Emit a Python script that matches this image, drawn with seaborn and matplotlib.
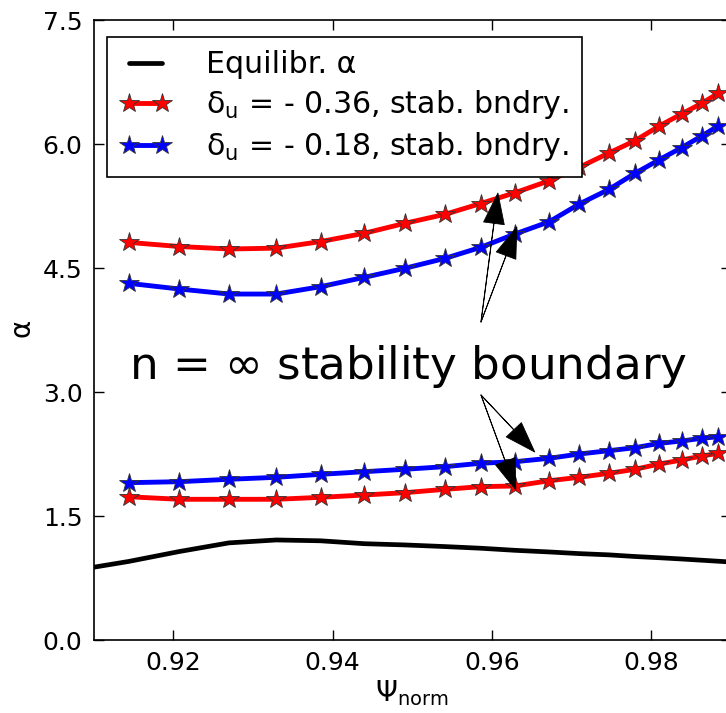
import matplotlib
matplotlib.use("Agg")
import matplotlib.pyplot as plt
import seaborn as sns
import numpy as np

# ---- data ----
psi = [0.9144, 0.92075, 0.9270, 0.93293, 0.9385, 0.94398, 0.94905, 0.95413, 0.95859,
       0.96288, 0.9672, 0.97096, 0.97466, 0.97795, 0.9810, 0.98379, 0.98633, 0.98838]
red_upper = [4.81, 4.76, 4.73, 4.74, 4.82, 4.92, 5.04, 5.15, 5.28,
             5.41, 5.556, 5.718, 5.89, 6.04, 6.218, 6.363, 6.492, 6.613]
blue_upper = [4.315, 4.246, 4.185, 4.185, 4.274, 4.387, 4.496, 4.617, 4.750,
              4.911, 5.060, 5.274, 5.45, 5.645, 5.81, 5.955, 6.097, 6.218]
blue_lower = [1.903, 1.915, 1.944, 1.968, 2.004, 2.036, 2.065, 2.097, 2.138,
              2.157, 2.198, 2.250, 2.290, 2.326, 2.379, 2.407, 2.440, 2.459]
red_lower = [1.733, 1.702, 1.702, 1.702, 1.726, 1.754, 1.782, 1.823, 1.855,
             1.863, 1.927, 1.968, 2.016, 2.065, 2.129, 2.177, 2.226, 2.258]
eq_psi = [0.9100, 0.9144, 0.92075, 0.9270, 0.93293, 0.9385, 0.94398, 0.94905, 0.95413,
          0.95859, 0.96288, 0.9672, 0.97096, 0.97466, 0.97795, 0.9810, 0.98379, 0.98633,
          0.98838, 0.9905]
eq_alpha = [0.88, 0.95, 1.07, 1.175, 1.21, 1.20, 1.165, 1.15, 1.13,
            1.11, 1.085, 1.065, 1.045, 1.03, 1.01, 0.995, 0.98, 0.965,
            0.953, 0.94]

labels = ["Equilibr. α",
          r"$\delta_u$ = - 0.36, stab. bndry.",
          r"$\delta_u$ = - 0.18, stab. bndry."]
annot_text = r"n = $\infty$ stability boundary"
x_ticks = [0.92, 0.94, 0.96, 0.98]
y_ticks = [0.0, 1.5, 3.0, 4.5, 6.0, 7.5]

# arrow (tail, tip) pairs in data coordinates
arrows = [((0.958625, 3.847), (0.96075, 5.407)),
          ((0.958625, 3.847), (0.96313, 4.996)),
          ((0.958625, 2.964), (0.965375, 2.274)),
          ((0.958625, 2.964), (0.96300, 1.815))]

# ---- style ----
sns.set_style("ticks")
plt.rcParams["font.family"] = ["DejaVu Sans"]
plt.rcParams["mathtext.default"] = "regular"
for k in ["text.color", "axes.labelcolor", "xtick.color", "ytick.color", "axes.edgecolor"]:
    plt.rcParams[k] = "black"

fig = plt.figure(figsize=(7.26, 7.13), dpi=100)
ax = fig.add_axes([93.5 / 726, 73 / 713, 637.5 / 726, 620 / 713])

sns.lineplot(x=eq_psi, y=eq_alpha, ax=ax, color="black", lw=3.4, label=labels[0],
             sort=False, estimator=None)
mk = dict(marker="*", markersize=14.5, markeredgecolor="#333333", markeredgewidth=0.6)
sns.lineplot(x=psi, y=red_upper, ax=ax, color="#ff0000", lw=3.5, label=labels[1],
             sort=False, estimator=None, **mk)
sns.lineplot(x=psi, y=blue_upper, ax=ax, color="#0000ff", lw=3.5, label=labels[2],
             sort=False, estimator=None, **mk)
sns.lineplot(x=psi, y=blue_lower, ax=ax, color="#0000ff", lw=3.5,
             sort=False, estimator=None, **mk)
sns.lineplot(x=psi, y=red_lower, ax=ax, color="#ff0000", lw=3.5,
             sort=False, estimator=None, **mk)

ax.set_xlim(0.910, 0.990)
ax.set_ylim(0.0, 7.5)
ax.set_xticks(x_ticks)
ax.set_xticklabels([f"{v:.2f}" for v in x_ticks])
ax.set_yticks(y_ticks)
ax.set_yticklabels([f"{v:.1f}" for v in y_ticks])
ax.tick_params(direction="in", length=7, width=1, labelsize=18, top=True, right=True,
               pad=8, colors="black")
for s in ax.spines.values():
    s.set_visible(True)
    s.set_linewidth(1.2)
    s.set_color("black")

ax.set_xlabel(r"$\Psi_{norm}$", fontsize=20, labelpad=2)
ax.set_ylabel(r"$\alpha$", fontsize=20, labelpad=4)

handles, lbls = ax.get_legend_handles_labels()
leg = ax.legend(handles[:3], lbls[:3], loc="upper left", bbox_to_anchor=(0.021, 0.973),
                borderaxespad=0, fontsize=21.6, numpoints=2, fancybox=False,
                framealpha=1, edgecolor="black", handlelength=1.7,
                handletextpad=1.15, borderpad=0.45, labelspacing=0.3)
leg.get_frame().set_linewidth(1.2)

ax.text(0.91444, 3.16, annot_text, fontsize=32.6, va="baseline", ha="left")
for tail, tip in arrows:
    ax.annotate("", xy=tip, xytext=tail,
                arrowprops=dict(facecolor="black", edgecolor="black", width=0.2,
                                headwidth=15, headlength=22, shrink=0.0, lw=0.6))

fig.savefig("out.png", dpi=100)
